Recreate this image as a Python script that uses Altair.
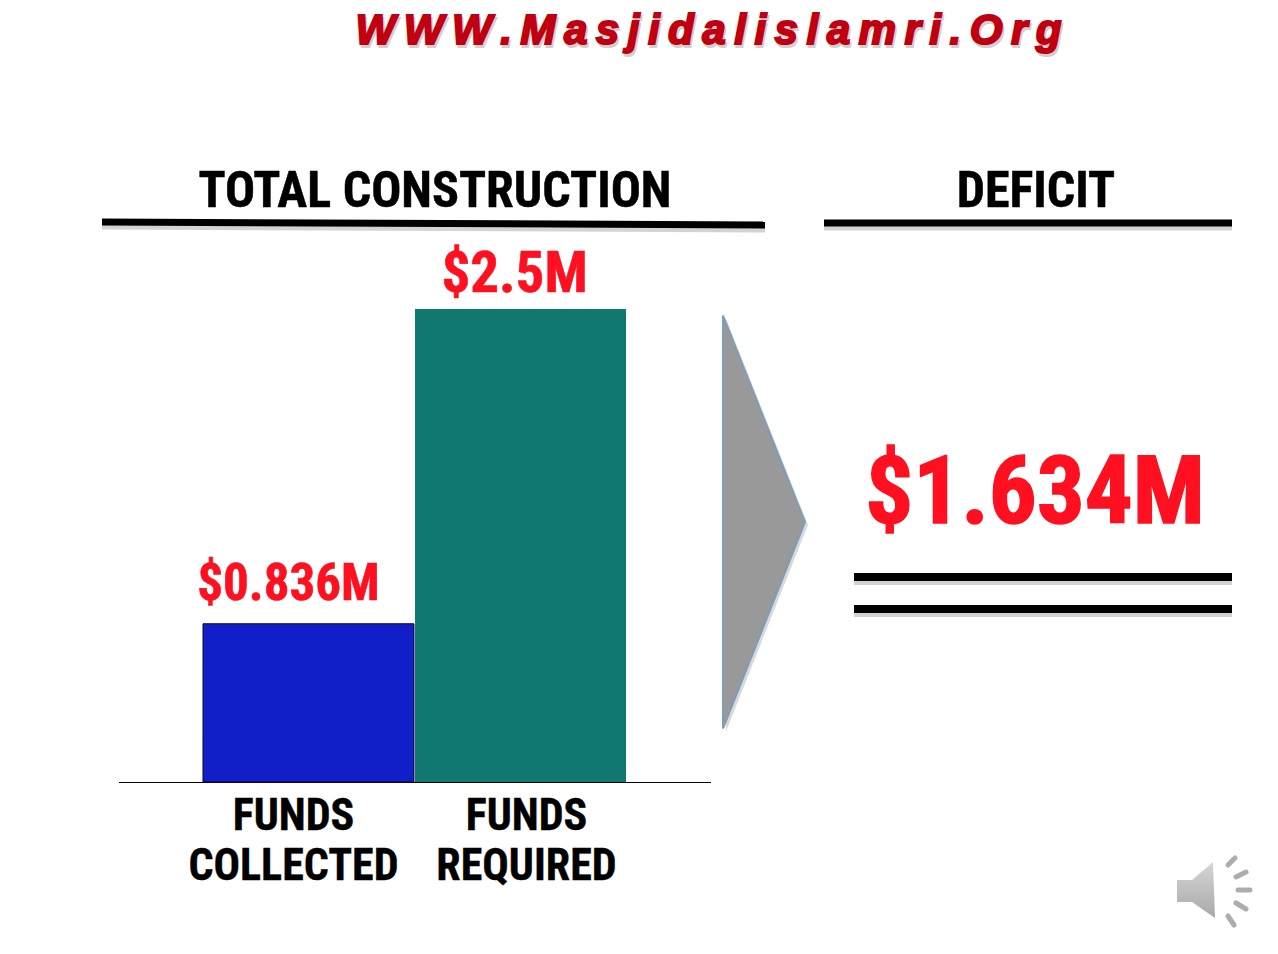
import altair as alt
import pandas as pd

categories = ["FUNDS COLLECTED", "FUNDS REQUIRED"]
axis_labels = ["FUNDS\nCOLLECTED", "FUNDS\nREQUIRED"]
values = [0.836, 2.5]
value_labels = ["$0.836M", "$2.5M"]
bar_colors = ["#121FC8", "#107870"]
site_title = "WWW.Masjidalislamri.Org"
header_left = "TOTAL CONSTRUCTION"
header_right = "DEFICIT"
deficit_label = "$1.634M"

NARROW = "Roboto Condensed"
W, H = 1250, 930


def px(v):
    return alt.value(v - 8)


df = pd.DataFrame({"category": categories, "axis_label": axis_labels, "value": values,
                   "label": value_labels})

x_enc = alt.X("category:N", scale=alt.Scale(domain=categories, range=[195, 618],
                                            paddingInner=0.005, paddingOuter=0), axis=None)
y_enc = alt.Y("value:Q", scale=alt.Scale(domain=[0, 2.5], range=[774, 301]), axis=None)

bars = alt.Chart(df).mark_bar(stroke=None).encode(
    x=x_enc, y=y_enc,
    fill=alt.Fill("category:N", scale=alt.Scale(domain=categories, range=bar_colors), legend=None),
)
blue_outline = alt.Chart(df[df["value"] < 1]).mark_bar(fill="#121FC8", stroke="#0a0a30", strokeWidth=1).encode(
    x=x_enc, y=y_enc)


def value_text(sub, size, dx, dy):
    return alt.Chart(sub).mark_text(font=NARROW, fontWeight="bold", fontSize=size, color="#FF1020",
                                    stroke="#FF1020", strokeWidth=0.6,
                                    dx=dx, dy=dy, baseline="alphabetic", align="center").encode(
        x=x_enc, y=y_enc, text="label:N")


low_label = value_text(df[df["value"] < 1], 51, -20, -24)
high_label = value_text(df[df["value"] > 1], 57, -6, -17)


def axis_text(sub, dx):
    return alt.Chart(sub).mark_text(font=NARROW, fontWeight="bold", fontSize=44, color="#000000",
                                    stroke="#000000", strokeWidth=0.4,
                                    lineBreak="\n", lineHeight=50, baseline="alphabetic",
                                    align="center", dx=dx).encode(
        x=x_enc, y=px(830), text="axis_label:N")


low_axis = axis_text(df[df["value"] < 1], -15)
high_axis = axis_text(df[df["value"] > 1], 6)


def rule(x1, y1, x2, y2, color="#000000", width=7, opacity=1.0, cap="butt"):
    return alt.Chart().mark_rule(color=color, strokeWidth=width, opacity=opacity, strokeCap=cap).encode(
        x=px(x1), y=px(y1), x2=px(x2), y2=px(y2))


def text(t, x, y, size, color, font=NARROW, style="normal", stroke=None, sw=0, opacity=1.0):
    kw = {}
    if stroke:
        kw = {"stroke": stroke, "strokeWidth": sw}
    return alt.Chart().mark_text(font=font, fontWeight="bold", fontStyle=style, fontSize=size, color=color,
                                 baseline="alphabetic", align="center", opacity=opacity, **kw).encode(
        x=px(x), y=px(y), text=alt.value(t))


def shape(path, x, y, size, **kw):
    return alt.Chart().mark_point(shape=path, size=size, filled=True, opacity=kw.pop("opacity", 1), **kw).encode(
        x=px(x), y=px(y))


spaced_title = "\u2009".join(site_title)

title_layers = [
    text(spaced_title, 710, 46.5, 42.2, "#a8a0a0", font="Liberation Sans", style="italic", stroke="#a8a0a0", sw=2,
         opacity=0.5),
    text(spaced_title, 708.5, 44, 42.2, "#C00010", font="Liberation Sans", style="italic", stroke="#C00010", sw=2),
]

line_shadows = [
    rule(102, 226, 765, 229, color="#808080", opacity=0.35),
    rule(824, 227, 1232, 227, color="#808080", opacity=0.35),
    rule(854, 581, 1232, 581, color="#808080", opacity=0.35, width=8),
    rule(854, 613, 1232, 613, color="#808080", opacity=0.35, width=8),
]
lines = [
    rule(102, 222, 765, 225),
    rule(824, 223, 1232, 223),
    rule(854, 577, 1232, 577, width=8),
    rule(854, 609, 1232, 609, width=8),
    rule(119, 782.5, 711, 782.5, width=1),
]

triangle_path = "M-0.41,-2.065 L0.41,0 L-0.41,2.065 Z"
triangle = [
    shape(triangle_path, 767, 525, 40000, fill="#808080", opacity=0.3),
    shape(triangle_path, 764, 522, 40000, fill="#999999", stroke="#7E9DB8", strokeWidth=2),
]

speaker_path = "M-0.19,-0.1 L-0.04,-0.1 L0.17,-0.28 L0.19,0.28 L-0.04,0.12 L-0.19,0.12 Z"
speaker_fill = alt.Gradient(gradient="linear", x1=0, y1=0, x2=0, y2=1,
                            stops=[alt.GradientStop(color="#d6d6d6", offset=0),
                                   alt.GradientStop(color="#a8a8a8", offset=1)])
speaker = [shape(speaker_path, 1196, 890, 40000, fill=speaker_fill)]
for (a, b, c, d) in [(1228, 865, 1235, 858), (1236, 877, 1246, 872), (1238, 890, 1250, 890),
                     (1236, 903, 1246, 909), (1228, 916, 1234, 925)]:
    speaker.append(rule(a, b, c, d, color="#adadad", width=5, cap="round"))

chart = alt.layer(
    *title_layers,
    *line_shadows, *lines,
    text(header_left, 435, 207, 50, "#000000", stroke="#000000", sw=0.5),
    text(header_right, 1036, 207, 50, "#000000", stroke="#000000", sw=0.5),
    *triangle,
    bars, blue_outline, low_label, high_label, low_axis, high_axis,
    text(deficit_label, 1035, 523, 95, "#FF1020", stroke="#FF1020", sw=1.5),
    *speaker,
).properties(width=W, height=H, padding=0, autosize=alt.AutoSizeParams(type="none")
).configure_view(stroke=None)

chart.save("out.html", embed_options={"renderer": "svg", "actions": False})
